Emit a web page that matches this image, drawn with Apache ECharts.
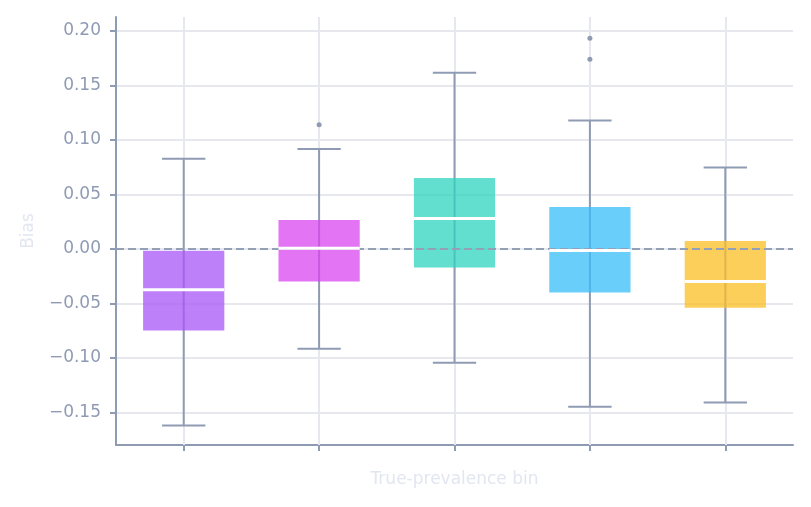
<!DOCTYPE html>
<html>
<head>
<meta charset="utf-8">
<script src="https://cdn.jsdelivr.net/npm/echarts@6/dist/echarts.min.js"></script>
<style>
  html, body { margin: 0; padding: 0; background: #fff; }
  #chart { width: 811px; height: 507px; }
</style>
</head>
<body>
<div id="chart"></div>
<script>
// box plot stats per true-prevalence bin
const categories = ['Bin 1', 'Bin 2', 'Bin 3', 'Bin 4', 'Bin 5'];
const mins = [-0.162, -0.0917, -0.1046, -0.145, -0.141];
const q1s = [-0.075, -0.030, -0.0172, -0.040, -0.054];
const medians = [-0.0376, 0.0005, 0.0278, -0.0016, -0.030];
const q3s = [-0.0018, 0.0266, 0.0651, 0.0385, 0.0073];
const maxs = [0.0826, 0.0917, 0.1617, 0.1177, 0.0746];
const outliers = [[1, 0.1138], [3, 0.174], [3, 0.1933]];
const yTicks = [-0.15, -0.10, -0.05, 0.00, 0.05, 0.10, 0.15, 0.20];

const colors = ['#a855f7', '#d946ef', '#2dd4bf', '#38bdf8', '#fbbf24'];
const axisColor = '#8f9bb3';
const gridColor = '#e7e7ee';
const font = 'DejaVu Sans';

const boxData = categories.map((c, i) => [i, mins[i], q1s[i], medians[i], q3s[i], maxs[i]]);

function fmt(v) {
  return v.toFixed(2).replace('-', '\u2212');
}

function renderBox(params, api) {
  const i = api.value(0);
  const band = api.size([1, 0])[0];
  const w = band * 0.6;
  const cap = band * 0.32;
  const pMin = api.coord([i, api.value(1)]);
  const pQ1 = api.coord([i, api.value(2)]);
  const pQ3 = api.coord([i, api.value(4)]);
  const pMax = api.coord([i, api.value(5)]);
  const x = pMin[0];
  const lineStyle = { stroke: axisColor, lineWidth: 2 };
  return {
    type: 'group',
    children: [
      { type: 'line', shape: { x1: x, y1: pMin[1], x2: x, y2: pMax[1] }, style: lineStyle },
      { type: 'line', shape: { x1: x - cap / 2, y1: pMin[1], x2: x + cap / 2, y2: pMin[1] }, style: lineStyle },
      { type: 'line', shape: { x1: x - cap / 2, y1: pMax[1], x2: x + cap / 2, y2: pMax[1] }, style: lineStyle },
      {
        type: 'rect',
        shape: { x: x - w / 2, y: pQ3[1], width: w, height: pQ1[1] - pQ3[1] },
        style: { fill: colors[i], opacity: 0.75 }
      }
    ]
  };
}

function renderMedian(params, api) {
  const i = api.value(0);
  const band = api.size([1, 0])[0];
  const w = band * 0.6;
  const p = api.coord([i, api.value(3)]);
  return {
    type: 'line',
    shape: { x1: p[0] - w / 2, y1: p[1], x2: p[0] + w / 2, y2: p[1] },
    style: { stroke: '#ffffff', lineWidth: 3 }
  };
}

const chart = echarts.init(document.getElementById('chart'), null, { renderer: 'canvas' });

const option = {
  animation: false,
  backgroundColor: '#ffffff',
  textStyle: { fontFamily: font },
  grid: { left: 116, right: 18, top: 17, bottom: 62 },
  xAxis: {
    type: 'category',
    data: categories,
    boundaryGap: true,
    name: 'True-prevalence bin',
    nameLocation: 'middle',
    nameGap: 26,
    nameTextStyle: { color: '#e2e6f0', fontSize: 17, fontFamily: font },
    axisLine: { show: true, onZero: false, lineStyle: { color: axisColor, width: 2 } },
    axisTick: { show: true, alignWithLabel: true, length: 6, lineStyle: { color: axisColor, width: 2 } },
    axisLabel: { show: false },
    splitLine: { show: false }
  },
  yAxis: {
    type: 'value',
    min: -0.18,
    max: 0.2128,
    name: 'Bias',
    nameLocation: 'middle',
    nameGap: 79,
    nameTextStyle: { color: '#e2e6f0', fontSize: 17, fontFamily: font },
    axisLine: { show: true, onZero: false, lineStyle: { color: axisColor, width: 2 } },
    axisTick: { show: true, length: 6, customValues: yTicks, lineStyle: { color: axisColor, width: 2 } },
    axisLabel: {
      customValues: yTicks,
      color: axisColor,
      fontSize: 17,
      fontFamily: font,
      margin: 15,
      formatter: fmt
    },
    splitLine: { show: true, lineStyle: { color: gridColor, width: 2 } }
  },
  series: [
    {
      // vertical grid lines at category centres
      type: 'line',
      data: [],
      z: 1,
      silent: true,
      markLine: {
        z: 1,
        symbol: 'none',
        silent: true,
        label: { show: false },
        emphasis: { disabled: true },
        lineStyle: { color: gridColor, width: 2, type: 'solid' },
        data: categories.map(c => ({ xAxis: c }))
      }
    },
    {
      type: 'custom',
      z: 2,
      renderItem: renderBox,
      data: boxData,
      encode: { x: 0, y: [1, 2, 3, 4, 5] }
    },
    {
      type: 'scatter',
      z: 3,
      data: outliers,
      symbol: 'circle',
      symbolSize: 5,
      itemStyle: { color: axisColor, borderWidth: 0, opacity: 1 },
      markLine: {
        z: 3,
        symbol: 'none',
        silent: true,
        label: { show: false },
        emphasis: { disabled: true },
        lineStyle: { color: '#93a0b6', width: 2, type: [8, 4], opacity: 1 },
        data: [{ yAxis: 0 }]
      }
    },
    {
      type: 'custom',
      z: 4,
      renderItem: renderMedian,
      data: boxData,
      encode: { x: 0, y: [1, 2, 3, 4, 5] }
    }
  ]
};

chart.setOption(option);
</script>
</body>
</html>
